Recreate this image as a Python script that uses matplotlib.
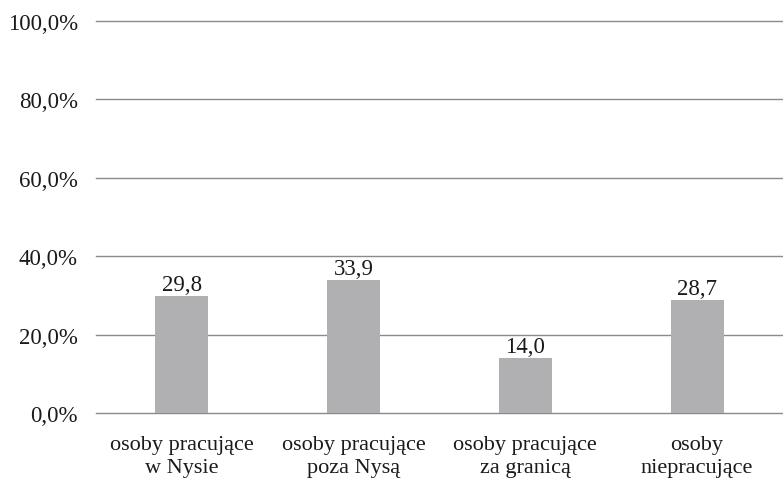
import matplotlib.pyplot as plt

plt.rcParams['font.family'] = ['Liberation Serif', 'DejaVu Serif']

categories = ['osoby pracujące\nw Nysie', 'osoby pracujące\npoza Nysą',
              'osoby pracujące\nza granicą', 'osoby\nniepracujące']
values = [29.8, 33.9, 14.0, 28.7]
yticks = [0, 20, 40, 60, 80, 100]

fig = plt.figure(figsize=(7.83, 4.81), dpi=100)
ax = fig.add_axes([0.1226, 0.1393, 0.8774, 0.815])

x = range(len(categories))
bars = ax.bar(x, values, width=0.31, color='#b0b0b3', zorder=3)
for xi, v in zip(x, values):
    ax.text(xi, v + 0.3, ('%.1f' % v).replace('.', ','), ha='center', va='bottom',
            fontsize=16.5, color='#1a1a1a', zorder=4)

ax.set_xlim(-0.5, 3.5)
ax.set_ylim(0, 100)
ax.set_yticks(yticks)
ax.set_yticklabels([('%.1f%%' % t).replace('.', ',') for t in yticks], fontsize=16.5, color='#1a1a1a')
ax.set_xticks(list(x))
ax.set_xticklabels(categories, fontsize=16, color='#1a1a1a', linespacing=1.3)
ax.grid(axis='y', color='#8a8a8a', linewidth=1.0, zorder=0)
for gl in ax.get_ygridlines():
    gl.set_clip_on(False)
ax.tick_params(length=0)
ax.tick_params(axis='x', pad=16)
ax.tick_params(axis='y', pad=13)
for s in ax.spines.values():
    s.set_visible(False)

fig.savefig('out.png', dpi=100)
